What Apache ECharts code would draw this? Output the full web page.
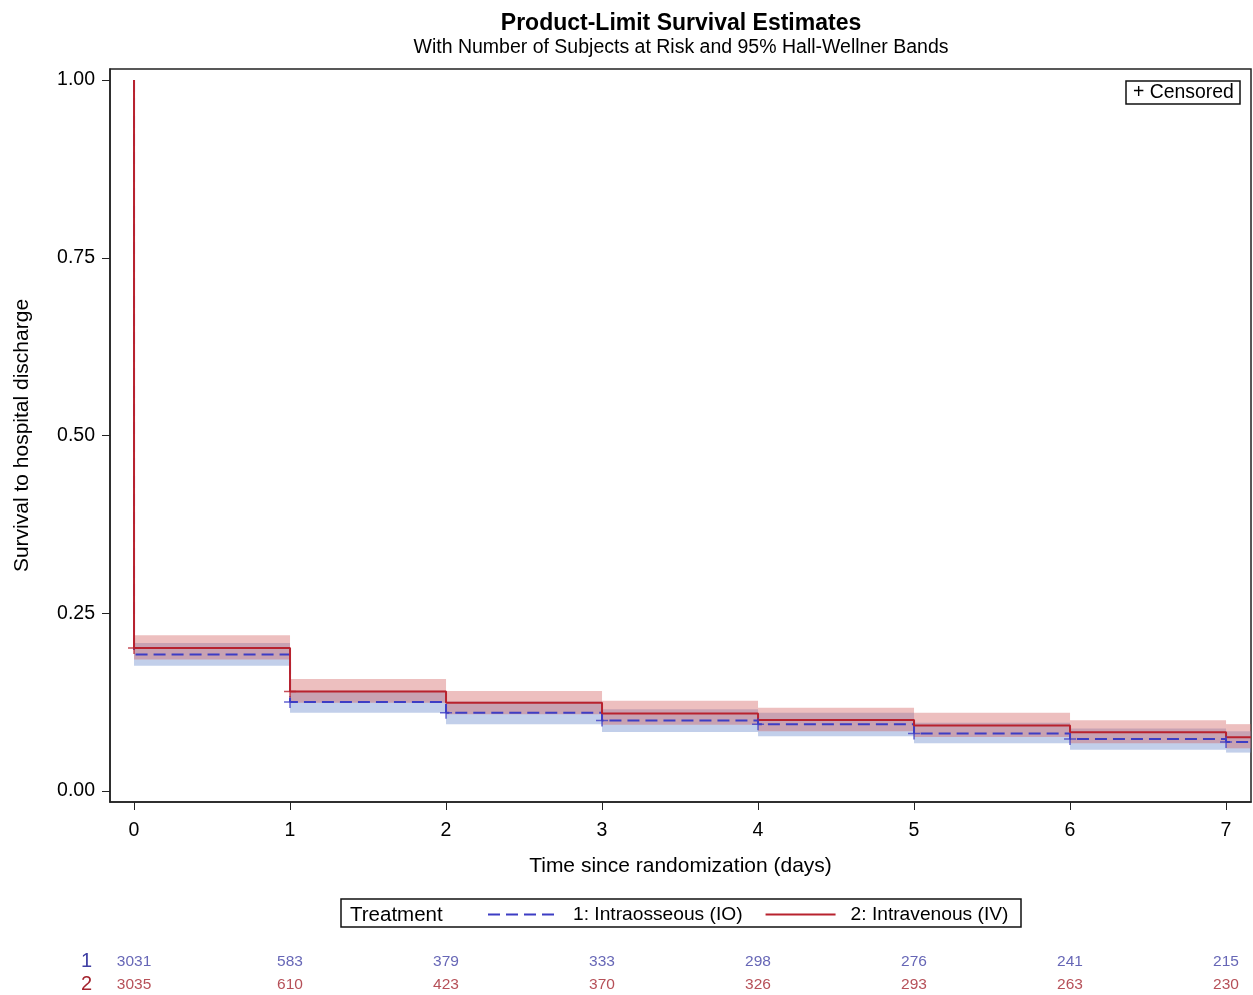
<!DOCTYPE html>
<html>
<head>
<meta charset="utf-8">
<script src="https://cdn.jsdelivr.net/npm/echarts@6/dist/echarts.min.js"></script>
<style>html,body{margin:0;padding:0;background:#fff}#c{width:1253px;height:995px}</style>
</head>
<body>
<div id="c"></div>
<script>
const days = [0, 1, 2, 3, 4, 5, 6, 7];
const xTicks = [0, 1, 2, 3, 4, 5, 6, 7];
const yTicks = [0, 0.25, 0.5, 0.75, 1];
const ioSurv  = [0.192, 0.125, 0.110, 0.099, 0.094, 0.081, 0.073, 0.069];
const ioLower = [0.176, 0.110, 0.094, 0.083, 0.077, 0.067, 0.058, 0.054];
const ioUpper = [0.208, 0.141, 0.126, 0.115, 0.110, 0.096, 0.088, 0.084];
const ivSurv  = [0.201, 0.140, 0.124, 0.109, 0.100, 0.092, 0.0825, 0.0755];
const ivLower = [0.185, 0.124, 0.108, 0.093, 0.084, 0.076, 0.067, 0.060];
const ivUpper = [0.219, 0.1575, 0.1405, 0.127, 0.117, 0.110, 0.0994, 0.094];
const ioCensorIdx = [1, 2, 3, 4, 5, 6, 7];
const ivCensorIdx = [0, 1];
const atRiskIO = [3031, 583, 379, 333, 298, 276, 241, 215];
const atRiskIV = [3035, 610, 423, 370, 326, 293, 263, 230];
const groups = ['1', '2'];
const names = ['1: Intraosseous (IO)', '2: Intravenous (IV)'];

const xMin = -0.154, xMax = 7.16, yMin = -0.0155, yMax = 1.0155;
const BLUE = '#3d3dc4', RED = '#b8222e';
const BLUE_T = '#4040a4', RED_T = '#a4242e';
const FONT = "'Liberation Sans', Arial, sans-serif";

function stepData(s) {
  const pts = [[0, 1]];
  for (let i = 0; i < days.length; i++) {
    pts.push([days[i], s[i]]);
    pts.push([i < days.length - 1 ? days[i + 1] : xMax, s[i]]);
  }
  return pts;
}
function bandData(lo, hi) {
  return days.map((d, i) => [d, i < days.length - 1 ? days[i + 1] : xMax, lo[i], hi[i]]);
}
function bandSeries(data, color) {
  return {
    type: 'custom', xAxisIndex: 0, yAxisIndex: 0, z: 1, silent: true,
    encode: { x: [0, 1], y: [2, 3] },
    data: data,
    renderItem: function (params, api) {
      const p1 = api.coord([api.value(0), api.value(3)]);
      const p2 = api.coord([api.value(1), api.value(2)]);
      return { type: 'rect', shape: { x: p1[0], y: p1[1], width: p2[0] - p1[0], height: p2[1] - p1[1] }, style: { fill: color } };
    }
  };
}
function censorSeries(idx, s, color) {
  return {
    type: 'scatter', xAxisIndex: 0, yAxisIndex: 0, z: 4, silent: true,
    symbol: 'path://M0,5L10,5M5,0L5,10', symbolSize: 12,
    itemStyle: { color: 'rgba(0,0,0,0)', borderColor: color, borderWidth: 1.5 },
    data: idx.map(i => [days[i], s[i]])
  };
}
function riskSeries(vals, g, color) {
  return {
    type: 'scatter', xAxisIndex: 1, yAxisIndex: 1, symbolSize: 0, silent: true,
    data: days.map((d, i) => [d, g, vals[i]]),
    label: { show: true, position: 'inside', formatter: p => String(p.value[2]), color: color, fontSize: 15.5, fontFamily: FONT }
  };
}

const chart = echarts.init(document.getElementById('c'), null, { renderer: 'canvas' });
chart.setOption({
  backgroundColor: '#fff',
  animation: false,
  title: [
    { text: 'Product-Limit Survival Estimates', left: 676, top: 7, textAlign: 'center',
      textStyle: { fontFamily: FONT, fontSize: 23, fontWeight: 'bold', color: '#000' } },
    { text: 'With Number of Subjects at Risk and 95% Hall-Wellner Bands', left: 676, top: 33, textAlign: 'center',
      textStyle: { fontFamily: FONT, fontSize: 19.5, fontWeight: 'normal', color: '#000' } }
  ],
  grid: [
    { left: 110, right: 2, top: 69, bottom: 193, show: true, borderColor: '#222', borderWidth: 1.5,
      backgroundColor: 'transparent', containLabel: false, outerBoundsMode: 'none' },
    { left: 110, right: 2, top: 950, height: 46, containLabel: false, outerBoundsMode: 'none' }
  ],
  xAxis: [
    { type: 'value', gridIndex: 0, min: xMin, max: xMax,
      name: 'Time since randomization (days)', nameLocation: 'middle', nameGap: 54,
      nameTextStyle: { fontFamily: FONT, fontSize: 21, color: '#000' },
      axisLine: { show: true, onZero: false, lineStyle: { color: '#222', width: 1.5 } },
      axisTick: { show: true, length: 8, lineStyle: { color: '#222' }, customValues: xTicks },
      axisLabel: { customValues: xTicks, margin: 19, fontFamily: FONT, fontSize: 19.5, color: '#000' },
      splitLine: { show: false } },
    { type: 'value', gridIndex: 1, min: xMin, max: xMax, show: false }
  ],
  yAxis: [
    { type: 'value', gridIndex: 0, min: yMin, max: yMax,
      name: 'Survival to hospital discharge', nameLocation: 'middle', nameGap: 77, nameRotate: 90,
      nameTextStyle: { fontFamily: FONT, fontSize: 21, color: '#000' },
      axisLine: { show: true, onZero: false, lineStyle: { color: '#222', width: 1.5 } },
      axisTick: { show: true, length: 8, lineStyle: { color: '#222' }, customValues: yTicks },
      axisLabel: { customValues: yTicks, margin: 15, fontFamily: FONT, fontSize: 19.5, color: '#000', formatter: v => v.toFixed(2) },
      splitLine: { show: false } },
    { type: 'category', gridIndex: 1, data: groups, inverse: true,
      axisLine: { show: false }, axisTick: { show: false },
      axisLabel: { interval: 0, margin: 18, fontFamily: FONT, fontSize: 20,
        formatter: v => v === '1' ? '{a|1}' : '{b|2}',
        rich: { a: { color: BLUE_T, fontSize: 20, fontFamily: FONT }, b: { color: RED_T, fontSize: 20, fontFamily: FONT } } } }
  ],
  legend: {
    data: names, left: 487, top: 905, padding: 0, itemWidth: 70, itemHeight: 14, itemGap: 22,
    itemStyle: { opacity: 0 },
    textStyle: { fontFamily: FONT, fontSize: 19.2, color: '#000', padding: [0, 0, 0, 10] },
    selectedMode: false
  },
  graphic: [
    { type: 'rect', shape: { x: 341, y: 899, width: 680, height: 28 }, style: { fill: 'none', stroke: '#111', lineWidth: 1.5 }, z: 10 },
    { type: 'text', x: 350, y: 915, style: { text: 'Treatment', fontFamily: FONT, fontSize: 20.5, fill: '#000', verticalAlign: 'middle' }, z: 10 },
    { type: 'rect', shape: { x: 1126, y: 81, width: 114, height: 23 }, style: { fill: '#fff', stroke: '#111', lineWidth: 1.5 }, z: 10 },
    { type: 'text', x: 1133, y: 93, style: { text: '+ Censored', fontFamily: FONT, fontSize: 19.4, fill: '#000', verticalAlign: 'middle' }, z: 10 }
  ],
  series: [
    bandSeries(bandData(ioLower, ioUpper), 'rgba(110,140,205,0.42)'),
    bandSeries(bandData(ivLower, ivUpper), 'rgba(210,95,95,0.40)'),
    { name: names[0], type: 'line', xAxisIndex: 0, yAxisIndex: 0, z: 3, symbol: 'none', silent: true,
      data: stepData(ioSurv), lineStyle: { color: BLUE, width: 2, type: [12, 6] }, itemStyle: { color: BLUE } },
    { name: names[1], type: 'line', xAxisIndex: 0, yAxisIndex: 0, z: 3, symbol: 'none', silent: true,
      data: stepData(ivSurv), lineStyle: { color: RED, width: 2 }, itemStyle: { color: RED } },
    censorSeries(ioCensorIdx, ioSurv, BLUE),
    censorSeries(ivCensorIdx, ivSurv, RED),
    riskSeries(atRiskIO, '1', BLUE_T),
    riskSeries(atRiskIV, '2', RED_T)
  ]
});
</script>
</body>
</html>
